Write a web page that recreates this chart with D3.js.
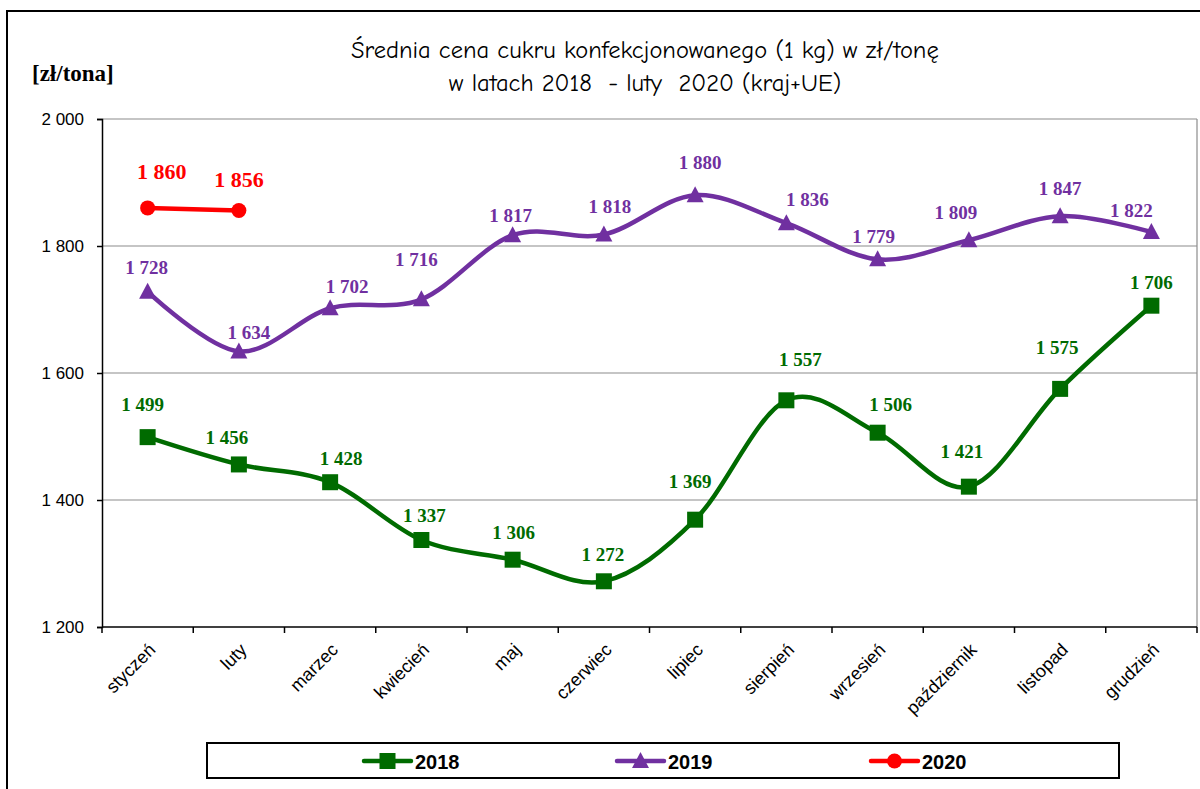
<!DOCTYPE html>
<html>
<head>
<meta charset="utf-8">
<script src="https://cdn.jsdelivr.net/npm/d3@7"></script>
<style>
  body { margin: 0; background: #fff; }
  svg { display: block; }
</style>
</head>
<body>
<div id="chart"></div>
<script>
// Data
const months = ["styczeń", "luty", "marzec", "kwiecień", "maj", "czerwiec",
    "lipiec", "sierpień", "wrzesień", "październik", "listopad", "grudzień"];
const values2018 = [1499, 1456, 1428, 1337, 1306, 1272, 1369, 1557, 1506, 1421, 1575, 1706];
const values2019 = [1728, 1634, 1702, 1716, 1817, 1818, 1880, 1836, 1779, 1809, 1847, 1822];
const values2020 = [1860, 1856];
const yTicks = [1200, 1400, 1600, 1800, 2000];
const seriesNames = ["2018", "2019", "2020"];

// Label nudges (px) relative to the point, as Excel placed them
const nudge2018 = [[-5, -33], [-12, -27], [11, -24], [3, -25], [1, -27], [-1, -27],
    [-5, -38], [14, -41], [13, -28], [-7, -35], [-3, -41], [0, -23]];
const nudge2019 = [[-1, -24], [10, -19], [17, -22], [-5, -40], [-2, -20], [6, -28],
    [5, -33], [21, -24], [-4, -23], [-13, -28], [0, -28], [-20, -22]];
const nudge2020 = [[14, -36], [0, -31]];

const W = 1200, H = 789;
const plot = { left: 102, right: 1197, top: 119, bottom: 627 };

const svg = d3.select("#chart")
    .append("svg")
    .attr("width", W)
    .attr("height", H);

// outer chart frame (runs off the right and bottom edge)
svg.append("rect")
    .attr("x", 7).attr("y", 11)
    .attr("width", 1220).attr("height", 820)
    .attr("fill", "none")
    .attr("stroke", "#000")
    .attr("stroke-width", 2);

const xScale = d3.scaleBand()
    .domain(months)
    .range([plot.left, plot.right])
    .padding(0);

const yScale = d3.scaleLinear()
    .domain([1200, 2000])
    .range([plot.bottom, plot.top]);

const fmt = v => d3.format(",")(v).replace(",", "\u00a0");

// gridlines
svg.append("g")
    .selectAll("line")
    .data(yTicks.filter(d => d > 1200))
    .join("line")
    .attr("x1", plot.left).attr("x2", plot.right)
    .attr("y1", d => yScale(d)).attr("y2", d => yScale(d))
    .attr("stroke", "#8c8c8c")
    .attr("stroke-width", 1.2);

// right border of the plot area
svg.append("line")
    .attr("x1", plot.right).attr("x2", plot.right)
    .attr("y1", plot.top).attr("y2", plot.bottom)
    .attr("stroke", "#8c8c8c")
    .attr("stroke-width", 1.2);

// y axis
const yAxis = d3.axisLeft(yScale)
    .tickValues(yTicks)
    .tickSize(5)
    .tickFormat(fmt);

const yG = svg.append("g")
    .attr("transform", `translate(${plot.left},0)`)
    .call(yAxis);
yG.select(".domain").attr("stroke", "#000").attr("stroke-width", 1.5);
yG.selectAll(".tick line").attr("stroke", "#000").attr("stroke-width", 1.5);
yG.selectAll(".tick text")
    .attr("x", -18)
    .style("font-family", "Liberation Sans, Arial, sans-serif")
    .style("font-size", "17px")
    .attr("fill", "#000");

// x axis: ticks at category boundaries
const xG = svg.append("g")
    .attr("transform", `translate(0,${plot.bottom})`);
xG.append("line")
    .attr("x1", plot.left).attr("x2", plot.right)
    .attr("stroke", "#000").attr("stroke-width", 1.5);
xG.selectAll(".xtick")
    .data(months.concat([null]))
    .join("line")
    .attr("class", "xtick")
    .attr("x1", (d, i) => plot.left + i * xScale.step())
    .attr("x2", (d, i) => plot.left + i * xScale.step())
    .attr("y1", 0).attr("y2", 6)
    .attr("stroke", "#000").attr("stroke-width", 1.5);
xG.selectAll(".xlabel")
    .data(months)
    .join("text")
    .attr("class", "xlabel")
    .attr("transform", d => `translate(${xScale(d) + xScale.bandwidth() / 2 + 9},${24}) rotate(-45)`)
    .attr("text-anchor", "end")
    .style("font-family", "Liberation Sans, Arial, sans-serif")
    .style("font-size", "18px")
    .text(d => d);

// unit label
svg.append("text")
    .attr("x", 32).attr("y", 81)
    .style("font-family", "Liberation Serif, Times New Roman, serif")
    .style("font-weight", "bold")
    .style("font-size", "23px")
    .text("[zł/tona]");

// title
const title = svg.append("text")
    .attr("text-anchor", "middle")
    .style("white-space", "pre")
    .style("font-family", "'Comic Sans MS', 'Comic Neue', 'DejaVu Sans', sans-serif")
    .style("font-size", "24.5px");
title.append("tspan").attr("x", 645).attr("y", 58)
    .text("Średnia cena cukru konfekcjonowanego (1 kg) w zł/tonę");
title.append("tspan").attr("x", 645).attr("y", 91)
    .text("w latach 2018  - luty  2020 (kraj+UE)");

const series = [
    { name: seriesNames[0], values: values2018, nudge: nudge2018, color: "#006b00", marker: "square", fs: 19 },
    { name: seriesNames[1], values: values2019, nudge: nudge2019, color: "#7030a0", marker: "triangle", fs: 19 },
    { name: seriesNames[2], values: values2020, nudge: nudge2020, color: "#ff0000", marker: "circle", fs: 22 }
];

const line = d3.line()
    .x((d, i) => xScale(months[i]) + xScale.bandwidth() / 2)
    .y(d => yScale(d))
    .curve(d3.curveCardinal.tension(0));

function drawMarker(g, type, x, y, color) {
    if (type === "square") {
        g.append("rect")
            .attr("x", x - 8).attr("y", y - 8)
            .attr("width", 16).attr("height", 16)
            .attr("fill", color);
    } else if (type === "triangle") {
        g.append("path")
            .attr("d", `M${x},${y - 9}L${x + 8.5},${y + 7}L${x - 8.5},${y + 7}Z`)
            .attr("fill", color);
    } else {
        g.append("circle")
            .attr("cx", x).attr("cy", y).attr("r", 7.5)
            .attr("fill", color);
    }
}

series.forEach(s => {
    const g = svg.append("g");
    g.append("path")
        .attr("d", line(s.values))
        .attr("fill", "none")
        .attr("stroke", s.color)
        .attr("stroke-width", 4.5);
    s.values.forEach((v, i) => {
        const x = xScale(months[i]) + xScale.bandwidth() / 2;
        const y = yScale(v);
        drawMarker(g, s.marker, x, y, s.color);
        g.append("text")
            .attr("x", x + s.nudge[i][0])
            .attr("y", y + s.nudge[i][1])
            .attr("text-anchor", "middle")
            .attr("dominant-baseline", "central")
            .attr("fill", s.color)
            .style("font-family", "Liberation Serif, Times New Roman, serif")
            .style("font-weight", "bold")
            .style("font-size", s.fs + "px")
            .text(fmt(v));
    });
});

// legend
const legend = svg.append("g");
legend.append("rect")
    .attr("x", 207).attr("y", 743)
    .attr("width", 912).attr("height", 35)
    .attr("fill", "#fff")
    .attr("stroke", "#000")
    .attr("stroke-width", 2);

const legendX = [364, 617, 871];
series.forEach((s, i) => {
    const x0 = legendX[i], y0 = 761;
    legend.append("line")
        .attr("x1", x0).attr("x2", x0 + 47)
        .attr("y1", y0).attr("y2", y0)
        .attr("stroke", s.color)
        .attr("stroke-width", 4.5)
        .attr("stroke-linecap", "round");
    drawMarker(legend, s.marker, x0 + 23.5, y0, s.color);
    legend.append("text")
        .attr("x", x0 + 51)
        .attr("y", y0 + 1)
        .attr("dominant-baseline", "central")
        .style("font-family", "Liberation Sans, Arial, sans-serif")
        .style("font-weight", "bold")
        .style("font-size", "20px")
        .text(s.name);
});
</script>
</body>
</html>
